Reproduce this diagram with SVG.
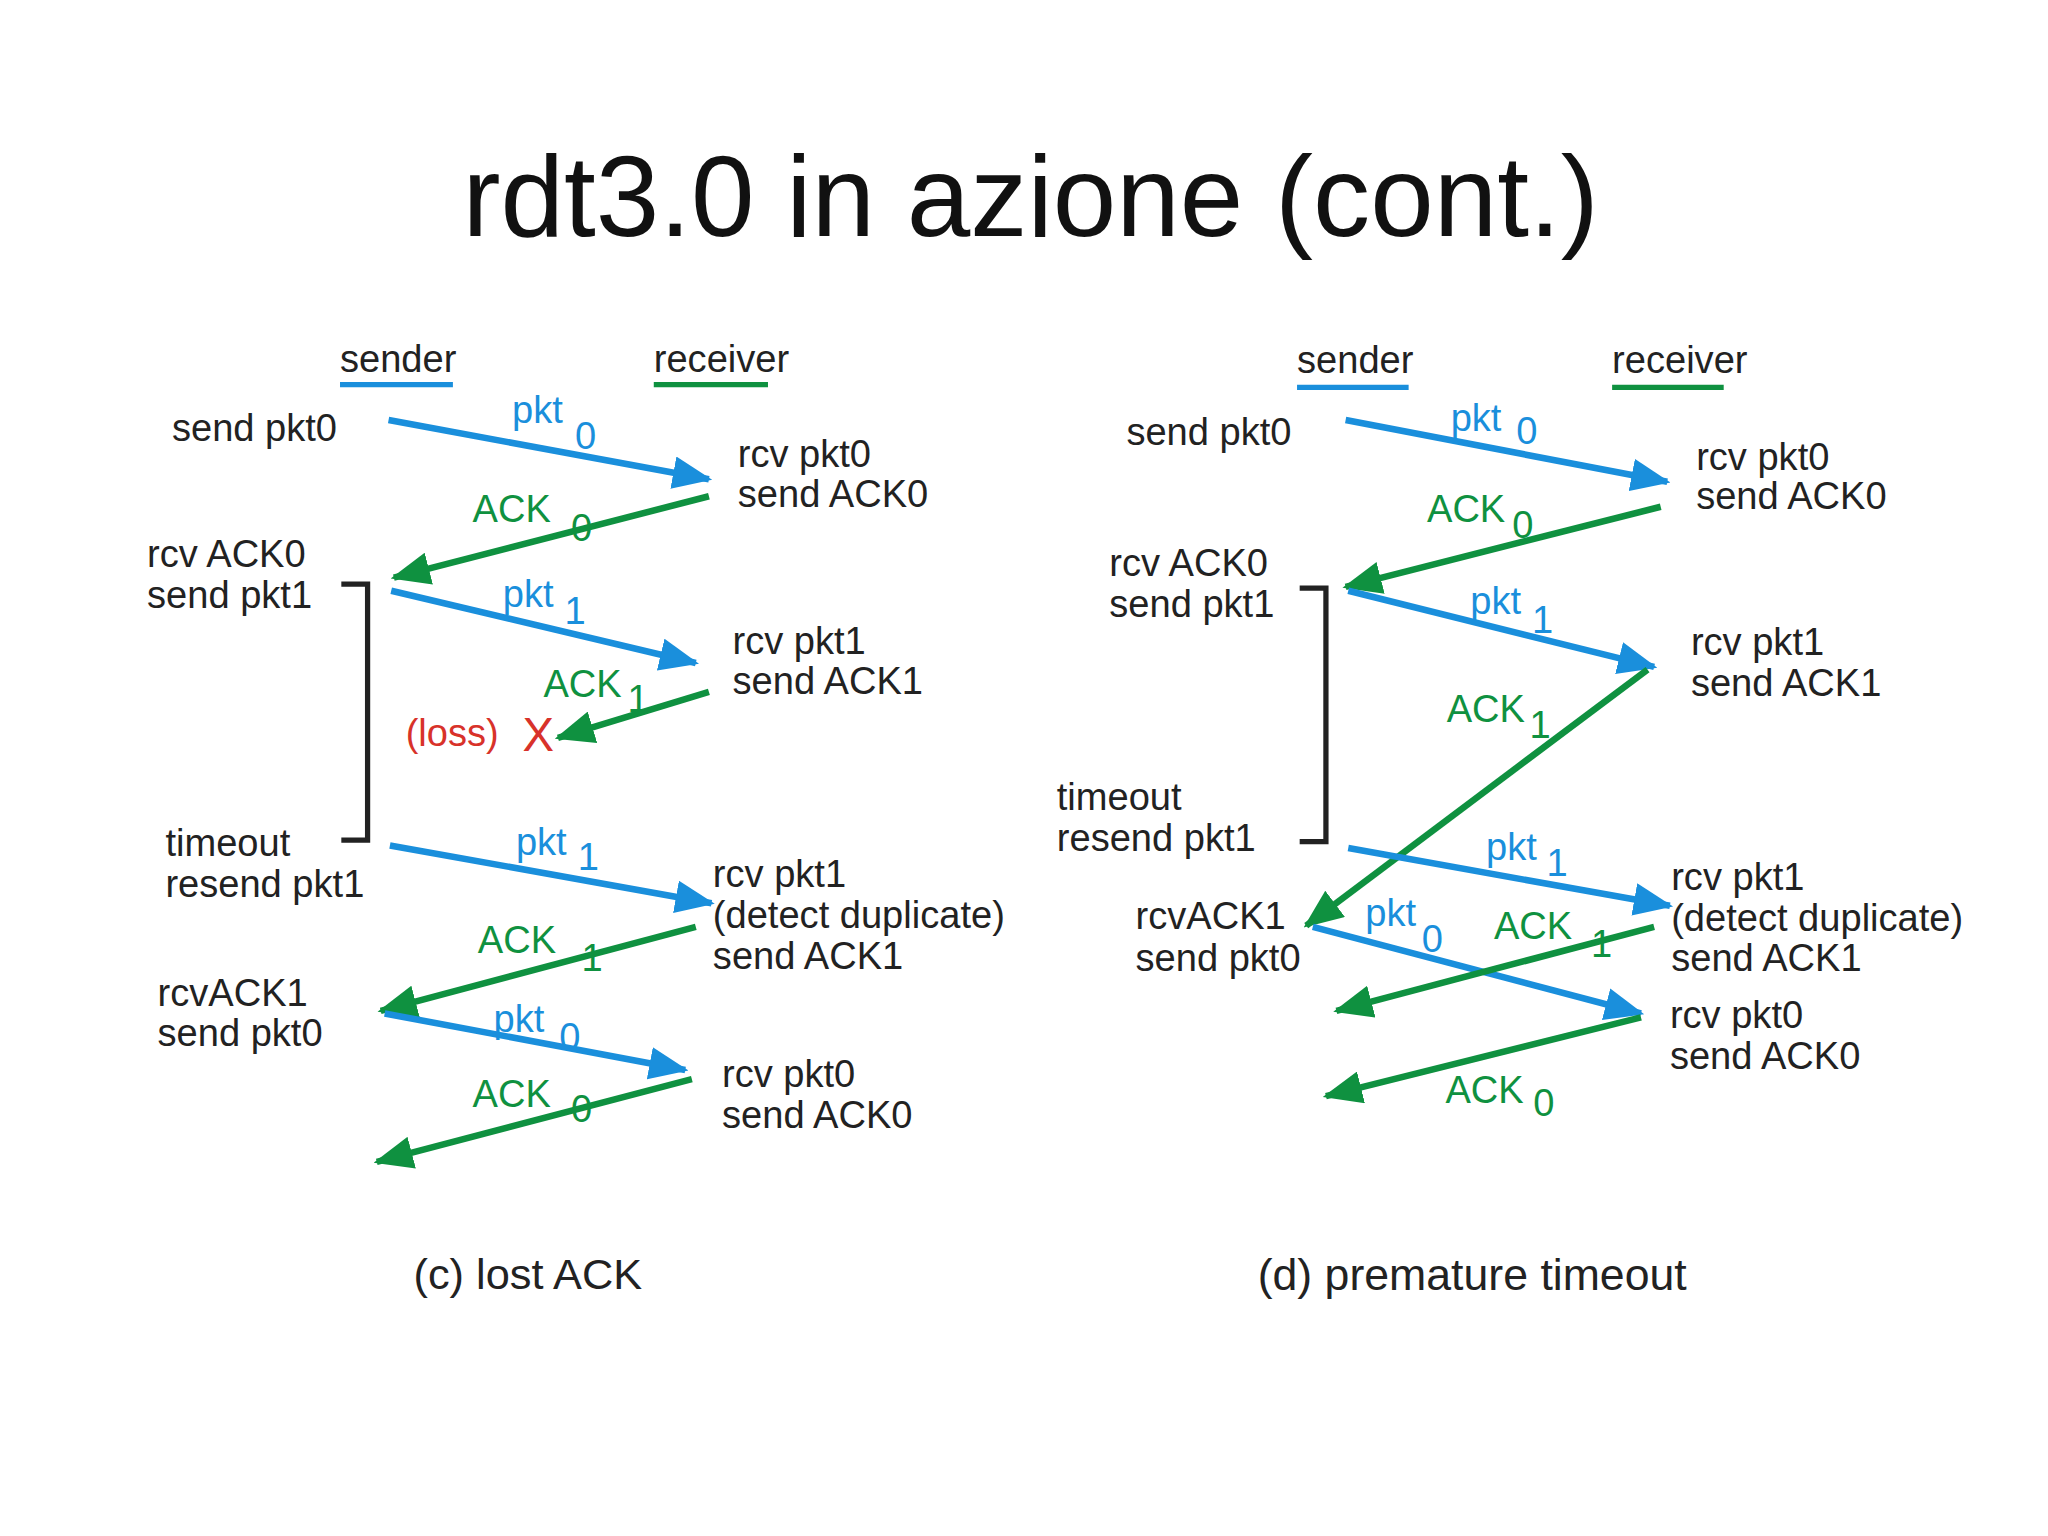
<svg xmlns="http://www.w3.org/2000/svg" width="2048" height="1536" viewBox="0 0 2048 1536">
<defs>
<marker id="hb" viewBox="0 0 6 5" refX="5.5" refY="2.5" markerWidth="6" markerHeight="5" orient="auto"><path d="M0,0 L6,2.5 L0,5 Z" fill="#1a8fdc"/></marker>
<marker id="hg" viewBox="0 0 6 5" refX="5.5" refY="2.5" markerWidth="6" markerHeight="5" orient="auto"><path d="M0,0 L6,2.5 L0,5 Z" fill="#0f9140"/></marker>
</defs>
<style>
text{font-family:"Liberation Sans",Arial,sans-serif;font-size:29px;fill:#222}
.b{fill:#1a8fdc}.g{fill:#0f9140}.r{fill:#d8322a}
.lb{stroke:#1a8fdc;stroke-width:5;fill:none;marker-end:url(#hb)}
.lg{stroke:#0f9140;stroke-width:5;fill:none;marker-end:url(#hg)}
.br{stroke:#222;stroke-width:4;fill:none}
.ub{stroke:#1a8fdc;stroke-width:4}.ug{stroke:#0f9140;stroke-width:4}
</style>
<rect width="2048" height="1536" fill="#fff"/>
<g transform="scale(1.3128)">
<text id="title" x="785" y="180" text-anchor="middle" style="font-size:87px;fill:#111">rdt3.0 in azione (cont.)</text>
<g id="connectors">
<line class="lb" x1="296" y1="320" x2="540" y2="365"/>
<line class="lg" x1="540" y1="378" x2="300" y2="440"/>
<line class="lb" x1="298" y1="450" x2="530" y2="505"/>
<line class="lg" x1="540" y1="527" x2="425" y2="562"/>
<line class="lb" x1="297" y1="644" x2="542" y2="688"/>
<line class="lg" x1="530" y1="706" x2="290" y2="770"/>
<line class="lb" x1="293" y1="772" x2="522" y2="815"/>
<line class="lg" x1="527" y1="822" x2="287" y2="885"/>
<line class="lb" x1="1025" y1="320" x2="1270" y2="367"/>
<line class="lg" x1="1265" y1="386" x2="1025" y2="447"/>
<line class="lb" x1="1027" y1="450" x2="1260" y2="508"/>
<line class="lg" x1="1255" y1="510" x2="995" y2="705"/>
<line class="lb" x1="1027" y1="646" x2="1272" y2="690"/>
<line class="lb" x1="1000" y1="706" x2="1250" y2="772"/>
<line class="lg" x1="1260" y1="706" x2="1018" y2="770"/>
<line class="lg" x1="1250" y1="775" x2="1010" y2="835"/>
<path class="br" d="M260,445 H280 V640 H260"/>
<path class="br" d="M990,448 H1010 V641 H990"/>
</g>
<g id="panelC">
<text x="259" y="283">sender</text><line class="ub" x1="259" y1="293" x2="345" y2="293"/>
<text x="498" y="283">receiver</text><line class="ug" x1="498" y1="293" x2="585" y2="293"/>
<text x="131" y="336">send pkt0</text>
<text class="b" x="390" y="322">pkt</text><text class="b" x="438" y="342">0</text>
<text x="562" y="356">rcv pkt0</text><text x="562" y="386">send ACK0</text>
<text class="g" x="360" y="398">ACK</text><text class="g" x="435" y="412">0</text>
<text x="112" y="432">rcv ACK0</text><text x="112" y="463">send pkt1</text>
<text class="b" x="383" y="462">pkt</text><text class="b" x="430" y="475">1</text>
<text x="558" y="498">rcv pkt1</text><text x="558" y="529">send ACK1</text>
<text class="g" x="414" y="531">ACK</text><text class="g" x="478" y="542">1</text>
<text class="r" x="309" y="568">(loss)</text><text class="r" x="398" y="572" style="font-size:36px">X</text>
<text x="126" y="652">timeout</text><text x="126" y="683">resend pkt1</text>
<text class="b" x="393" y="651">pkt</text><text class="b" x="440" y="663">1</text>
<text x="543" y="676">rcv pkt1</text><text x="543" y="707">(detect duplicate)</text><text x="543" y="738">send ACK1</text>
<text class="g" x="364" y="726">ACK</text><text class="g" x="443" y="740">1</text>
<text x="120" y="766">rcvACK1</text><text x="120" y="797">send pkt0</text>
<text class="b" x="376" y="786">pkt</text><text class="b" x="426" y="800">0</text>
<text x="550" y="828">rcv pkt0</text><text x="550" y="859">send ACK0</text>
<text class="g" x="360" y="843">ACK</text><text class="g" x="435" y="855">0</text>
<text x="315" y="982" style="font-size:33px">(c) lost ACK</text>
</g>
<g id="panelD">
<text x="988" y="284">sender</text><line class="ub" x1="988" y1="295" x2="1073" y2="295"/>
<text x="1228" y="284">receiver</text><line class="ug" x1="1228" y1="295" x2="1313" y2="295"/>
<text x="858" y="339">send pkt0</text>
<text class="b" x="1105" y="328">pkt</text><text class="b" x="1155" y="338">0</text>
<text x="1292" y="358">rcv pkt0</text><text x="1292" y="388">send ACK0</text>
<text class="g" x="1087" y="398">ACK</text><text class="g" x="1152" y="410">0</text>
<text x="845" y="439">rcv ACK0</text><text x="845" y="470">send pkt1</text>
<text class="b" x="1120" y="468">pkt</text><text class="b" x="1167" y="482">1</text>
<text x="1288" y="499">rcv pkt1</text><text x="1288" y="530">send ACK1</text>
<text class="g" x="1102" y="550">ACK</text><text class="g" x="1165" y="562">1</text>
<text x="805" y="617">timeout</text><text x="805" y="648">resend pkt1</text>
<text class="b" x="1132" y="655">pkt</text><text class="b" x="1178" y="667">1</text>
<text x="1273" y="678">rcv pkt1</text><text x="1273" y="709">(detect duplicate)</text><text x="1273" y="740">send ACK1</text>
<text x="865" y="708">rcvACK1</text><text x="865" y="740">send pkt0</text>
<text class="b" x="1040" y="705">pkt</text><text class="b" x="1083" y="725">0</text>
<text class="g" x="1138" y="715">ACK</text><text class="g" x="1212" y="729">1</text>
<text x="1272" y="783">rcv pkt0</text><text x="1272" y="814">send ACK0</text>
<text class="g" x="1101" y="840">ACK</text><text class="g" x="1168" y="850">0</text>
<text x="958" y="983" style="font-size:34px">(d) premature timeout</text>
</g>
</g>
</svg>
